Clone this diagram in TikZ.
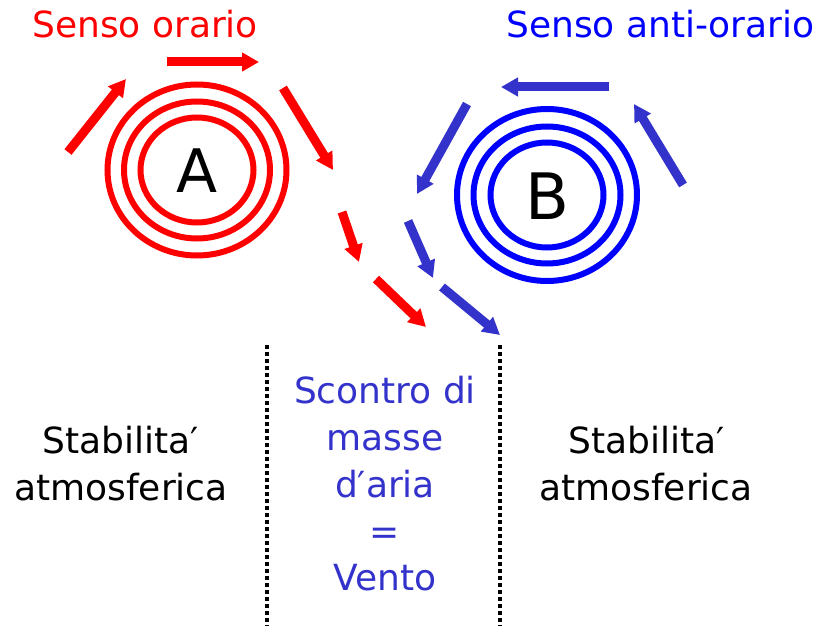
\documentclass[tikz,border=0pt]{standalone}
\usepackage{fontspec}
\setmainfont{DejaVu Sans}
\usetikzlibrary{arrows.meta}
\definecolor{rosso}{RGB}{255,0,0}
\definecolor{blu}{RGB}{0,0,255}
\definecolor{bluarr}{RGB}{51,51,204}
\begin{document}
\begin{tikzpicture}[x=1pt,y=-1pt,
  ring/.style={line width=6pt},
  wind/.style={line width=9pt,-{Triangle[length=17pt,width=18pt]}},
  lbl/.style={font=\fontsize{36}{47}\selectfont,inner sep=0pt},
  dots/.style={line width=3.5pt,dash pattern=on 3.5pt off 3.5pt},
  letter/.style={font=\fontsize{60}{60}\selectfont,inner sep=0pt,text=black}]
\useasboundingbox (0,0) rectangle (823,626);
% titles
\node[lbl,text=rosso,anchor=base west] (tA) at (32,38) {Senso orario};
\node[lbl,text=blu,anchor=base west] (tB) at (506,38) {Senso anti-orario};
% A rings
\coordinate (cA) at (197,170);
\draw[ring,rosso] (cA) ellipse [x radius=89.5, y radius=85.5];
\draw[ring,rosso] (cA) ellipse [x radius=73, y radius=68.5];
\draw[ring,rosso] (cA) ellipse [x radius=56.5, y radius=52.5];
\node[letter,anchor=base] (A) at (197,192) {A};
% B rings
\coordinate (cB) at (547,195);
\draw[ring,blu] (cB) ellipse [x radius=90, y radius=86];
\draw[ring,blu] (cB) ellipse [x radius=73.5, y radius=68.5];
\draw[ring,blu] (cB) ellipse [x radius=56.5, y radius=52.5];
\node[letter,font=\fontsize{64}{64}\selectfont,anchor=base] (B) at (547,219) {B};
% red arrows
\coordinate (r1s) at (68,152); \coordinate (r1e) at (126,79);
\coordinate (r2s) at (167,62); \coordinate (r2e) at (259,62);
\coordinate (r3s) at (283,88); \coordinate (r3e) at (333,170);
\coordinate (r4s) at (342,212); \coordinate (r4e) at (359,262);
\coordinate (r5s) at (376,279); \coordinate (r5e) at (426,327);
\draw[wind,rosso] (r1s) -- (r1e);
\draw[wind,rosso] (r2s) -- (r2e);
\draw[wind,rosso] (r3s) -- (r3e);
\draw[wind,rosso] (r4s) -- (r4e);
\draw[wind,rosso] (r5s) -- (r5e);
% blue arrows
\coordinate (b1s) at (609,87); \coordinate (b1e) at (501,87);
\coordinate (b2s) at (683,185); \coordinate (b2e) at (634,104);
\coordinate (b3s) at (467,104); \coordinate (b3e) at (417,194);
\coordinate (b4s) at (408,221); \coordinate (b4e) at (433,278);
\coordinate (b5s) at (442,287); \coordinate (b5e) at (500,335);
\draw[wind,bluarr] (b1s) -- (b1e);
\draw[wind,bluarr] (b2s) -- (b2e);
\draw[wind,bluarr] (b3s) -- (b3e);
\draw[wind,bluarr] (b4s) -- (b4e);
\draw[wind,bluarr] (b5s) -- (b5e);
% dotted separators
\coordinate (d1t) at (267,345); \coordinate (d1b) at (267,626);
\coordinate (d2t) at (500,345); \coordinate (d2b) at (500,626);
\draw[dots] (d1t) -- (d1b);
\draw[dots] (d2t) -- (d2b);
% bottom texts
\node[lbl,anchor=base] (L1) at (121,453) {Stabilita′};
\node[lbl,anchor=base] (L2) at (121,500) {atmosferica};
\node[lbl,anchor=base] (R1) at (647,453) {Stabilita′};
\node[lbl,anchor=base] (R2) at (646,500) {atmosferica};
\node[lbl,anchor=base,text=bluarr] (M1) at (385,403) {Scontro di};
\node[lbl,anchor=base,text=bluarr] (M2) at (385,450) {masse};
\node[lbl,anchor=base,text=bluarr] (M3) at (385,497) {d′aria};
\node[lbl,anchor=base,text=bluarr] (M4) at (385,544) {=};
\node[lbl,anchor=base,text=bluarr] (M5) at (385,590) {Vento};
\end{tikzpicture}
\end{document}
